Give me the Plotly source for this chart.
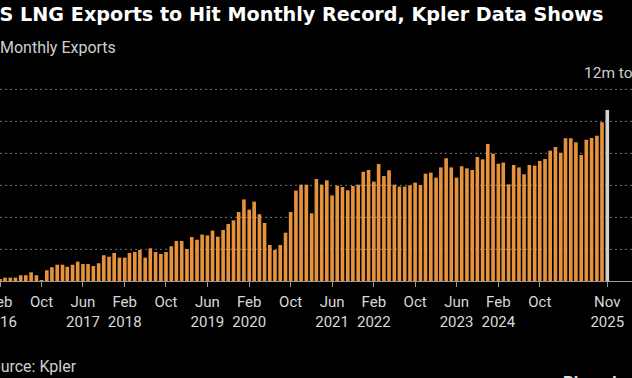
import pandas as pd
import plotly.graph_objects as go

# ---- data (million tons, monthly, Feb 2016 .. Nov 2025) ----
start_month = "2016-02-01"
exports_mt = [
    0.07,
    0.21, 0.21, 0.21, 0.36, 0.36, 0.54, 0.36,
    0.03,
    0.67, 0.86, 1.02, 1.02, 0.89, 1.02, 1.21, 1.06, 1.06, 0.94, 1.11,
    1.61, 1.52, 1.75, 1.46, 1.46, 1.75, 1.81, 1.94, 1.46, 2.04, 1.81, 1.69,
    1.81, 2.17, 2.50, 2.50, 2.00, 2.75, 2.58, 2.90, 2.85, 3.15, 2.77, 3.19, 3.56, 3.79,
    4.31, 5.10, 4.46, 4.96, 4.17, 3.63, 2.25, 1.94, 2.25, 3.02, 4.31, 5.65, 6.02, 6.02, 4.23,
    6.375, 6.02, 6.29, 5.35, 5.96, 5.875, 5.67, 5.94, 6.02, 6.83, 6.94, 6.21, 7.31, 6.56,
    6.92, 6.02, 5.90, 5.90, 5.98, 6.15, 6.00, 6.71, 6.77, 6.46, 7.10, 7.67, 7.10, 6.46,
    7.17, 7.04, 6.94, 7.75, 7.60, 8.56, 7.96, 7.33, 7.40, 6.04, 7.25, 7.10, 6.67, 7.25,
    7.21, 7.50, 7.625, 8.15, 8.375, 8.02, 8.92, 8.92, 8.67, 7.875, 8.83, 8.94, 9.08, 9.92,
    10.69,
]
months = pd.date_range(start_month, periods=len(exports_mt), freq="MS")

tick_dates = ["2016-02-01", "2016-10-01", "2017-06-01", "2018-02-01", "2018-10-01",
              "2019-06-01", "2020-02-01", "2020-10-01", "2021-06-01", "2022-02-01",
              "2022-10-01", "2023-06-01", "2024-02-01", "2024-10-01", "2025-11-01"]
tick_text = ["Feb<br>2016", "Oct", "Jun<br>2017", "Feb<br>2018", "Oct", "Jun<br>2019",
             "Feb<br>2020", "Oct", "Jun<br>2021", "Feb<br>2022", "Oct", "Jun<br>2023",
             "Feb<br>2024", "Oct", "Nov<br>2025"]
y_grid = [2, 4, 6, 8, 10, 12]

# ---- style ----
W, H = 632, 378
ORANGE = "#e6923c"
GREY = "#d2d2d2"
colors = [ORANGE] * (len(exports_mt) - 1) + [GREY]
FONT = "Roboto"
TFONT = "DejaVu Sans"

px_per_month = 5.19
days_per_month = 30.4375
px_per_day = px_per_month / days_per_month
x0 = pd.Timestamp(start_month) - pd.Timedelta(hours=12)
x1 = x0 + pd.Timedelta(days=W / px_per_day)

bar_width_ms = 0.70 * days_per_month * 86400000

fig = go.Figure(
    go.Bar(x=months, y=exports_mt, marker=dict(color=colors, line=dict(width=0)),
           width=bar_width_ms, hoverinfo="x+y")
)

top_m, bot_m = 81, 97
plot_h = H - top_m - bot_m


def py(ypx):
    return (H - bot_m - ypx) / plot_h


fig.update_layout(
    width=W, height=H,
    margin=dict(l=0, r=0, t=top_m, b=bot_m, pad=0, autoexpand=False),
    paper_bgcolor="#000000", plot_bgcolor="#000000",
    showlegend=False,
    font=dict(family=FONT, color="#d9d9d9", size=15),
)
fig.update_xaxes(
    type="date", range=[x0, x1], tickmode="array", tickvals=tick_dates, ticktext=tick_text,
    ticks="outside", ticklen=5, tickwidth=1, tickcolor="#9a9a9a", ticklabelstandoff=2,
    ticklabeloverflow="allow", automargin=False,
    showline=True, linecolor="#9a9a9a", linewidth=1, showgrid=False, zeroline=False,
    tickfont=dict(family=FONT, size=15, color="#d9d9d9"),
)
fig.update_yaxes(
    range=[0, 12.5], tickmode="array", tickvals=y_grid, showticklabels=False,
    automargin=False,
    showgrid=True, gridcolor="#5a5a5a", griddash="2px,3px", gridwidth=1, zeroline=False,
)

# faint dotted gridlines drawn over the bars too
for v in y_grid:
    fig.add_shape(type="line", xref="paper", yref="y", x0=0, x1=1, y0=v, y1=v,
                  layer="above", line=dict(color="rgba(255,255,255,0.14)", width=1,
                                           dash="2px,3px"))

ann = [
    dict(text="<b>US LNG Exports to Hit Monthly Record, Kpler Data Shows</b>",
         x=-18.5 / W, y=py(14), xanchor="left", yanchor="middle",
         font=dict(family=TFONT, size=19.2, color="#ffffff")),
    dict(text="Monthly Exports", x=-2 / W, y=py(47), xanchor="left", yanchor="middle",
         font=dict(family=FONT, size=16, color="#cfcfcf")),
    dict(text="12m tons", x=582 / W, y=py(73), xanchor="left", yanchor="middle",
         font=dict(family=FONT, size=15.5, color="#cfcfcf")),
    dict(text="Source: Kpler", x=-20 / W, y=py(366), xanchor="left", yanchor="middle",
         font=dict(family=FONT, size=16, color="#cfcfcf")),
    dict(text="<b>Bloomberg</b>", x=561 / W, y=py(382), xanchor="left", yanchor="middle",
         font=dict(family=FONT, size=17, color="#e0e0e0")),
]
for a in ann:
    a.update(xref="paper", yref="paper", showarrow=False)
fig.update_layout(annotations=ann)

fig.write_html(
    "out.html",
    config={"displayModeBar": False},
    post_script="document.body.style.margin='0';document.body.style.background='#000';"
                "document.body.style.overflow='hidden';",
)
